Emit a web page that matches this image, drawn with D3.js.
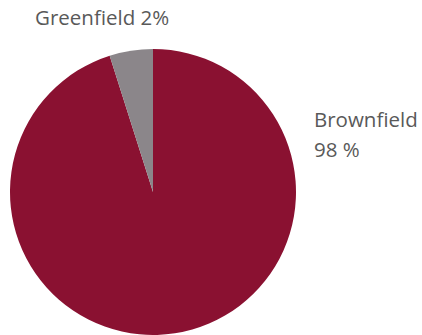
<!DOCTYPE html>
<html>
<head>
<meta charset="utf-8">
<script src="https://cdn.jsdelivr.net/npm/d3@7"></script>
<style>
  body { margin: 0; background: #fff; }
  text { font-family: "Open Sans", sans-serif; fill: #595959; }
</style>
</head>
<body>
<svg id="chart" width="422" height="335"></svg>
<script>
// slice sizes as drawn in the picture, labels as printed
const categories = ["Brownfield", "Greenfield"];
const values = [95.1, 4.9];
const labels = ["98 %", "2%"];
const colors = ["#8a1131", "#8b868a"];

const svg = d3.select("#chart");
const cx = 153, cy = 192, radius = 143;

const pie = d3.pie().sort(null).value(d => d.value);
const data = categories.map((c, i) => ({ name: c, value: values[i], label: labels[i], color: colors[i] }));

const arc = d3.arc().innerRadius(0).outerRadius(radius);

const g = svg.append("g").attr("transform", `translate(${cx},${cy})`);
g.selectAll("path")
  .data(pie(data))
  .join("path")
  .attr("d", arc)
  .attr("fill", d => d.data.color);

// labels
svg.append("text")
  .attr("x", 35).attr("y", 25)
  .attr("font-size", 20.5)
  .text(data[1].name + " " + data[1].label);

let t = svg.append("text").attr("x", 314).attr("y", 127).attr("font-size", 20.5);
t.append("tspan").attr("x", 314).text(data[0].name);
t.append("tspan").attr("x", 314).attr("dy", 30).text(data[0].label);
</script>
</body>
</html>
